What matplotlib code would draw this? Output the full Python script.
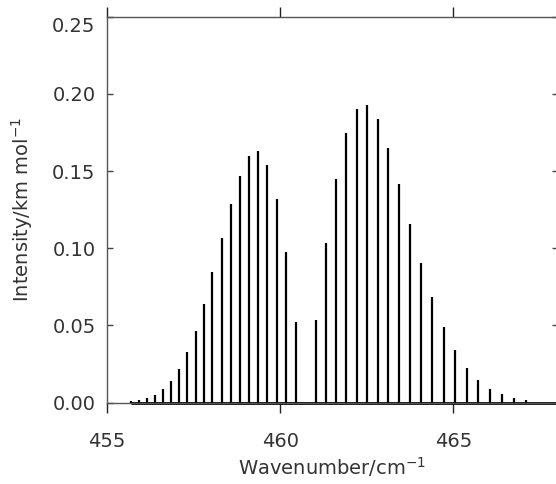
import matplotlib
matplotlib.use('Agg')
import matplotlib.pyplot as plt
import numpy as np

# P branch sticks
p_wn = [455.71, 455.93, 456.15, 456.39, 456.61, 456.84, 457.08, 457.32, 457.57, 457.81,
        458.05, 458.32, 458.58, 458.84, 459.10, 459.36, 459.62, 459.90, 460.17, 460.45]
p_int = [0.0010, 0.0017, 0.0030, 0.0052, 0.0089, 0.0140, 0.0218, 0.0328, 0.0467, 0.0641,
         0.0844, 0.1067, 0.1285, 0.1471, 0.1596, 0.1629, 0.1540, 0.1322, 0.0974, 0.0520]

# R branch sticks
r_wn = [461.03, 461.33, 461.61, 461.91, 462.21, 462.51, 462.81, 463.12, 463.44, 463.76,
        464.07, 464.39, 464.72, 465.05, 465.38, 465.71, 466.06, 466.39, 466.74, 467.09]
r_int = [0.0538, 0.1037, 0.1451, 0.1747, 0.1905, 0.1929, 0.1836, 0.1652, 0.1415, 0.1158,
         0.0907, 0.0683, 0.0490, 0.0341, 0.0225, 0.0145, 0.0089, 0.0056, 0.0030, 0.0017]

x_ticks = [455, 460, 465]
y_ticks = [0.00, 0.05, 0.10, 0.15, 0.20, 0.25]

wn = np.array(p_wn + r_wn)
inten = np.array(p_int + r_int)

plt.rcParams['font.family'] = 'DejaVu Sans'
txt_col = '#333333'

fig = plt.figure(figsize=(5.56, 4.84), dpi=100)
ax = fig.add_axes([0.1919, 0.168, 0.8108, 0.7975])

xmin, xmax = 455, 468
ax.vlines(wn, 0, inten, color='k', linewidth=1.6)
ax.hlines(0, wn.min(), xmax, color='k', linewidth=2.0, clip_on=False)

ax.set_xlim(xmin, xmax)
ax.set_ylim(0, 0.25)

ax.set_xticks(x_ticks)
ax.set_yticks(y_ticks)
ax.set_xticklabels([str(t) for t in x_ticks])
ax.set_yticklabels(['%.2f' % t for t in y_ticks])

for s in ax.spines.values():
    s.set_color('#555555')
    s.set_linewidth(1.0)

ax.xaxis.set_ticks_position('both')
ax.tick_params(axis='x', which='major', bottom=True, top=True, direction='out',
               length=7, width=1.0, color='#222222', labelsize=14, pad=14)
ax.tick_params(axis='y', which='major', left=True, right=True, direction='in',
               length=4, width=1.0, color='#444444', labelsize=14, pad=8)

# top label of the y axis sits a little lower in the reference
ax.get_yticklabels()[-1].set_va('top')

ax.set_xlabel('Wavenumber/cm$^{-1}$', fontsize=14, color=txt_col)
ax.xaxis.set_label_coords(0.5, -0.135)
ax.set_ylabel('Intensity/km mol$^{-1}$', fontsize=14, color=txt_col)
ax.yaxis.set_label_coords(-0.158, 0.5)

for lab in ax.get_xticklabels() + ax.get_yticklabels():
    lab.set_color(txt_col)

fig.savefig('out.png', dpi=100)
